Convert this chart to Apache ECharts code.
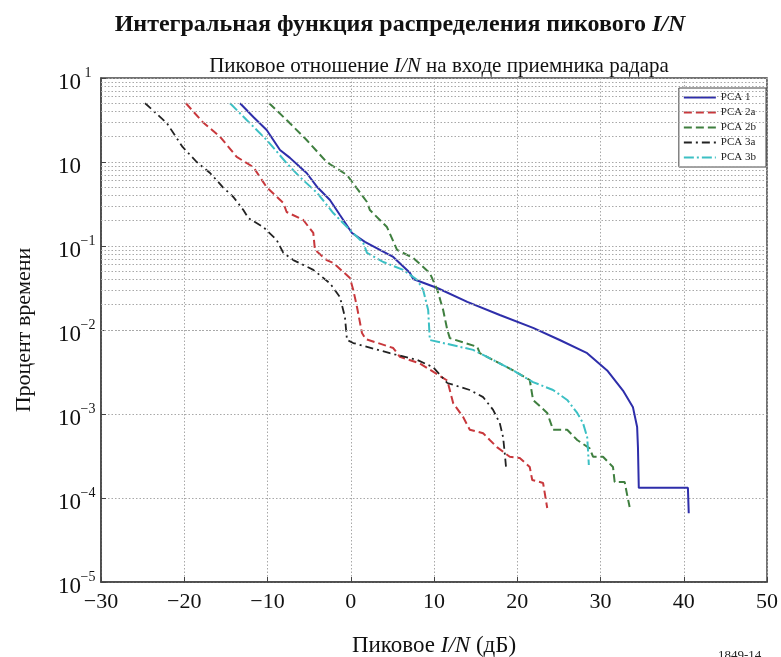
<!DOCTYPE html>
<html>
<head>
<meta charset="utf-8">
<script src="https://cdn.jsdelivr.net/npm/echarts@6/dist/echarts.min.js"></script>
<style>
  html, body { margin: 0; padding: 0; background: #fff; }
  #chart { width: 781px; height: 657px; }
</style>
</head>
<body>
<div id="chart"></div>
<script>
// Peak I/N cumulative distribution curves: [I/N in dB, percent of time]
const seriesNames = ['PCA 1', 'PCA 2a', 'PCA 2b', 'PCA 3a', 'PCA 3b'];

const pca1 = [[-13.3,5.0],[-11.7,3.44],[-10.1,2.4],[-8.5,1.39],[-7.3,1.12],[-6.1,0.87],[-5.3,0.74],[-4.0,0.50],[-2.5,0.353],[-1.3,0.234],[0.15,0.143],[1.7,0.112],[3.5,0.09],[5.1,0.074],[7.1,0.048],[7.5,0.0405],[10.4,0.0316],[14.0,0.0216],[17.9,0.0151],[21.9,0.0106],[25.1,0.0076],[28.4,0.0053],[30.8,0.0033],[32.7,0.0019],[33.9,0.0012],[34.4,0.0007],[34.5,0.0004],[34.6,0.000132],[40.5,0.000132],[40.6,0.000066]];

const pca2a = [[-19.8,5.0],[-17.8,3.0],[-15.7,2.0],[-13.7,1.15],[-11.7,0.87],[-10.1,0.50],[-8.1,0.325],[-7.7,0.254],[-5.7,0.204],[-4.5,0.143],[-4.3,0.09],[-2.9,0.068],[-2.1,0.063],[-0.1,0.0416],[0.3,0.030],[0.75,0.0188],[1.35,0.0092],[1.8,0.0078],[5.1,0.0061],[5.9,0.0048],[8.3,0.0040],[11.6,0.0025],[12.3,0.00135],[13.5,0.00092],[14.3,0.00065],[15.9,0.00059],[16.7,0.00049],[17.6,0.00040],[19.1,0.00031],[20.3,0.0003],[21.5,0.000234],[21.8,0.000164],[23.1,0.000151],[23.3,0.000115],[23.6,0.000076]];

const pca2b = [[-9.8,5.0],[-7.7,3.16],[-5.3,1.83],[-2.9,1.0],[-0.45,0.70],[1.95,0.334],[2.3,0.268],[4.35,0.168],[5.56,0.09],[7.5,0.072],[9.5,0.0477],[10.4,0.030],[11.1,0.0173],[11.6,0.010],[11.9,0.008],[15.2,0.0063],[15.5,0.0053],[17.9,0.0040],[19.5,0.0033],[21.5,0.00254],[21.9,0.00147],[23.6,0.00103],[24.3,0.00065],[26.0,0.00065],[27.2,0.00049],[28.7,0.00039],[29.1,0.00031],[30.3,0.00031],[31.5,0.000234],[31.7,0.000155],[32.9,0.000155],[33.2,0.000109],[33.5,0.000078]];

const pca3a = [[-24.7,5.0],[-22.1,2.91],[-20.2,1.51],[-18.5,1.0],[-16.9,0.74],[-15.35,0.50],[-14.1,0.383],[-12.9,0.268],[-12.3,0.215],[-10.5,0.168],[-8.9,0.118],[-8.1,0.083],[-6.9,0.068],[-4.5,0.052],[-2.5,0.036],[-1.3,0.0247],[-0.7,0.0143],[-0.45,0.0076],[0.3,0.0070],[4.7,0.0053],[8.0,0.0044],[9.9,0.0036],[11.6,0.00234],[14.3,0.00193],[15.9,0.00159],[17.1,0.00112],[17.9,0.00078],[18.3,0.00053],[18.5,0.00034],[18.65,0.000234]];

const pca3b = [[-14.5,5.0],[-12.5,3.16],[-10.1,1.83],[-7.7,0.97],[-6.1,0.66],[-4.05,0.43],[-2.1,0.247],[-0.1,0.155],[1.5,0.109],[1.95,0.083],[3.9,0.0645],[6.3,0.052],[8.0,0.0394],[8.7,0.030],[9.3,0.0173],[9.5,0.0076],[11.1,0.0070],[14.7,0.0058],[17.1,0.0044],[19.5,0.0033],[21.9,0.0024],[24.3,0.00193],[26.0,0.00147],[27.2,0.00103],[27.9,0.00078],[28.4,0.00053],[28.5,0.00037],[28.6,0.000247]];

// Axis ranges
const xMin = -30, xMax = 50, xStep = 10;
const yMin = 1e-5, yMax = 10;

// Minor log gridlines (2..9 within each decade)
const minorGrid = [];
for (let e = -5; e <= 0; e++) {
  for (let k = 2; k <= 9; k++) minorGrid.push({ yAxis: k * Math.pow(10, e) });
}

const serif = '"Liberation Serif", "DejaVu Serif", serif';
const gridDot = { color: '#a8a8a8', type: [1.5, 2], width: 1 };

function lineSeries(name, data, color, dash, width) {
  return {
    name: name,
    type: 'line',
    data: data,
    symbol: 'none',
    smooth: false,
    lineStyle: { color: color, width: width, type: dash },
    itemStyle: { color: color },
    z: 3
  };
}

const chart = echarts.init(document.getElementById('chart'), null, { renderer: 'canvas' });

chart.setOption({
  backgroundColor: '#fff',
  animation: false,
  title: [
    {
      text: 'Интегральная функция распределения пикового {i|I/N}',
      left: 395, top: 8, textAlign: 'center',
      textStyle: {
        fontFamily: serif, fontSize: 24, fontWeight: 'bold', color: '#111',
        rich: { i: { fontFamily: serif, fontSize: 24, fontWeight: 'bold', fontStyle: 'italic', color: '#111' } }
      }
    },
    {
      text: 'Пиковое отношение {i|I/N} на входе приемника радара',
      left: 434, top: 51, textAlign: 'center',
      textStyle: {
        fontFamily: serif, fontSize: 21, fontWeight: 'normal', color: '#111',
        rich: { i: { fontFamily: serif, fontSize: 21, fontStyle: 'italic', color: '#111' } }
      }
    }
  ],
  legend: {
    data: seriesNames,
    orient: 'vertical',
    right: 15, top: 88,
    itemWidth: 32, itemHeight: 10, itemGap: 4,
    padding: [4, 10, 4, 4],
    backgroundColor: '#fff',
    borderColor: '#444', borderWidth: 1,
    itemStyle: { opacity: 0 },
    textStyle: { fontFamily: serif, fontSize: 11, color: '#222' }
  },
  grid: {
    left: 101, right: 14, top: 78, bottom: 75,
    containLabel: false,
    outerBoundsMode: 'none',
    show: true, borderColor: '#444', borderWidth: 1.5, backgroundColor: 'transparent'
  },
  xAxis: {
    type: 'value',
    min: xMin, max: xMax, interval: xStep,
    name: 'Пиковое {i|I/N} (дБ)',
    nameLocation: 'middle', nameGap: 52,
    nameTextStyle: {
      fontFamily: serif, fontSize: 23, color: '#111',
      rich: { i: { fontFamily: serif, fontSize: 23, fontStyle: 'italic', color: '#111' } }
    },
    axisLine: { show: true, onZero: false, lineStyle: { color: '#444', width: 1.5 } },
    axisTick: { show: true, inside: true, length: 5, lineStyle: { color: '#444' } },
    axisLabel: {
      fontFamily: serif, fontSize: 22, color: '#111', margin: 9,
      formatter: v => String(v).replace('-', '\u2212')
    },
    splitLine: { show: true, lineStyle: gridDot }
  },
  yAxis: {
    type: 'log',
    logBase: 10,
    min: yMin, max: yMax,
    name: 'Процент времени',
    nameLocation: 'middle', nameGap: 66, nameRotate: 90,
    nameTextStyle: { fontFamily: serif, fontSize: 22, color: '#111' },
    axisLine: { show: true, onZero: false, lineStyle: { color: '#444', width: 1.5 } },
    axisTick: { show: true, inside: true, length: 5, lineStyle: { color: '#444' } },
    axisLabel: {
      fontFamily: serif, color: '#111', margin: 6,
      formatter: function (v) {
        const e = Math.round(Math.log10(v));
        const sup = e === 0 ? ' ' : (e < 0 ? '\u2212' : '') + Math.abs(e);
        return '{b|10}{s|' + sup + '}';
      },
      rich: {
        b: { fontFamily: serif, fontSize: 23, color: '#111', padding: [10, 0, 0, 0] },
        s: { fontFamily: serif, fontSize: 14, color: '#111', width: 14, align: 'left', padding: [0, 0, 10, 0] }
      }
    },
    splitLine: { show: true, lineStyle: gridDot }
  },
  series: [
    {
      name: 'grid-minor',
      type: 'line',
      data: [],
      silent: true,
      markLine: {
        silent: true, symbol: 'none', animation: false,
        label: { show: false },
        lineStyle: gridDot,
        data: minorGrid
      },
      z: 1
    },
    lineSeries('PCA 1', pca1, '#2e2eaa', 'solid', 2),
    lineSeries('PCA 2a', pca2a, '#c8383c', [8, 4], 2),
    lineSeries('PCA 2b', pca2b, '#3f7f3f', [8, 4], 2),
    lineSeries('PCA 3a', pca3a, '#222222', [8, 4, 2, 4], 1.8),
    lineSeries('PCA 3b', pca3b, '#3cc0c4', [10, 3, 2, 3], 2)
  ],
  graphic: [
    {
      type: 'text', left: 718, top: 649,
      style: { text: '1849-14', fontFamily: serif, fontSize: 13, fill: '#222' }
    }
  ]
});
</script>
</body>
</html>
